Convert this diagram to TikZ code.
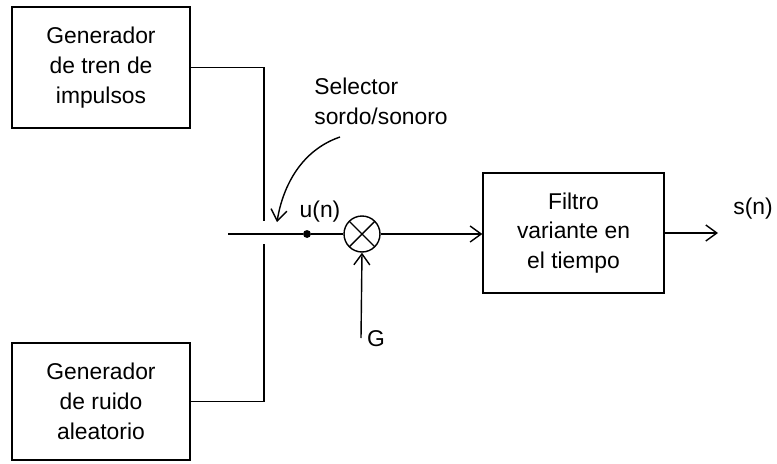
\documentclass[tikz,border=0pt]{standalone}
\usepackage{fontspec}
\setmainfont{Liberation Sans}
\usepackage{tikz}
\usetikzlibrary{arrows.meta, positioning, calc}
\tikzset{
	blockbox/.style={draw, line width=0.8pt, align=center, inner sep=0pt,
			font=\fontsize{13}{17}\selectfont}
}
\tikzset{
	labeltext/.style={font=\fontsize{13}{17}\selectfont, inner sep=0pt}
}
\tikzset{
	multnode/.style={draw, circle, line width=0.8pt, minimum size=0.72cm, inner sep=0pt,
			path picture={
					\draw[line width=0.8pt] (path picture bounding box.north west) -- (path picture bounding box.south east);
					\draw[line width=0.8pt] (path picture bounding box.north east) -- (path picture bounding box.south west);
				}}
}
\tikzset{
	wire/.style={line width=0.8pt},
	arrowwire/.style={line width=0.8pt, -{Straight Barb[length=2.2mm, width=3.2mm]}}
}

\begin{document}
\begin{tikzpicture}[x=0.02cm, y=-0.02cm]

			\useasboundingbox (0,0) rectangle (777,463);

			% generadores
			\node[blockbox, minimum width=3.56cm, minimum height=2.42cm] (genA) at (101,67.5)
			{Generador\\de tren de\\impulsos};
			\node[blockbox, minimum width=3.56cm, minimum height=2.34cm] (genB) at (101,401.5)
			{Generador\\de ruido\\aleatorio};

			% selector
			\coordinate (swA) at (264,221);
			\coordinate (swB) at (264,244);
			\coordinate (inpt) at (228,234);
			\draw[wire] (genA.east) -| (swA);
			\draw[wire] (genB.east) -| (swB);

			\node[labeltext, anchor=west, align=left] (sel) at (314,101) {Selector\\sordo/sonoro};
			\coordinate (selA) at (340,137);
			\coordinate (selB) at (277,222);
			\draw[arrowwire] (selA) .. controls (302,150) and (283,185) .. (selB);

			% multiplicador
			\node[multnode] (mult) at (362,234) {};
			\node[fill, circle, inner sep=0pt, minimum size=4.5pt] (udot) at (307,234) {};
			\node[labeltext] (ulab) at (320,212) {u(n)};
			\draw[wire] (inpt) -- (udot) -- (mult.west);

			\coordinate (gin) at (361,338);
			\node[labeltext] (glab) at (376,339) {G};
			\draw[arrowwire] (gin) -- (mult.south);

			% filtro
			\node[blockbox, minimum width=3.62cm, minimum height=2.4cm] (filt) at (573.5,233)
			{Filtro\\variante en\\el tiempo};
			\draw[arrowwire] (mult.east) -- (mult.east -| filt.west);

			\coordinate (outpt) at (718,233);
			\node[labeltext] (slab) at (753,209) {s(n)};
			\draw[arrowwire] (filt.east) -- (outpt);

		\end{tikzpicture}
\end{document}
